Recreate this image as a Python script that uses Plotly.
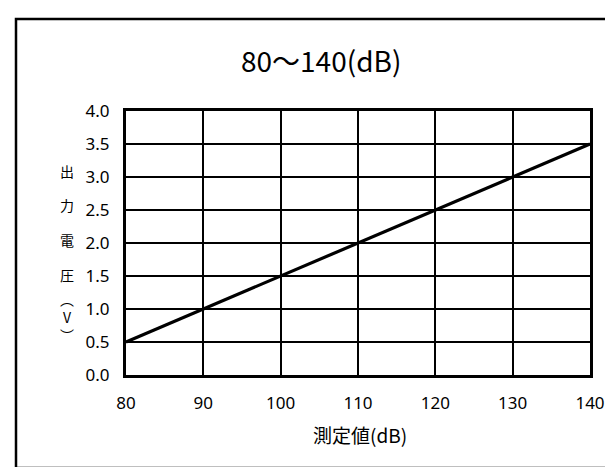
import plotly.graph_objects as go

# Data
measured_db = [80, 90, 100, 110, 120, 130, 140]
output_v = [0.5, 1.0, 1.5, 2.0, 2.5, 3.0, 3.5]
x_ticks = [80, 90, 100, 110, 120, 130, 140]
y_ticks = [0.0, 0.5, 1.0, 1.5, 2.0, 2.5, 3.0, 3.5, 4.0]
title_text = "80～140(dB)"
x_title = "測定値(dB)"
y_title_kanji = ["出", "力", "電", "圧"]
y_title_unit = "︵<br>V<br>︶"

W, H = 613, 467
L, R, T, B = 118, 582, 103, 367  # plot area pixel edges
pw, ph = R - L, B - T


def px(xp):
    return (xp - L) / pw


def py(yp):
    return (B - yp) / ph


CJK = "Noto Sans CJK JP"
LAT = "Noto Sans, Noto Sans CJK JP"

fig = go.Figure()
fig.add_trace(go.Scatter(x=measured_db, y=output_v, mode="lines",
                         line=dict(color="black", width=3.2),
                         showlegend=False, hoverinfo="skip"))

fig.update_layout(
    width=W, height=H,
    margin=dict(l=L, r=W - R, t=T, b=H - B),
    paper_bgcolor="white", plot_bgcolor="white",
    xaxis=dict(range=[80, 140], tickvals=x_ticks,
               ticktext=[str(v) for v in x_ticks],
               showgrid=True, gridcolor="black", gridwidth=2.3,
               showline=True, linecolor="black", linewidth=3, mirror=True,
               zeroline=False, ticks="", ticklabelstandoff=11,
               tickfont=dict(family=LAT, size=17, color="black")),
    yaxis=dict(range=[0, 4], tickvals=y_ticks,
               ticktext=[f"{v:.1f}" for v in y_ticks],
               showgrid=True, gridcolor="black", gridwidth=2.3,
               showline=True, linecolor="black", linewidth=3, mirror=True,
               zeroline=False, ticks="", ticklabelstandoff=10,
               tickfont=dict(family=LAT, size=17, color="black")),
)

annotations = [
    dict(text=title_text, xref="paper", yref="paper", x=px(313), y=py(52),
         xanchor="center", yanchor="middle", showarrow=False,
         font=dict(family=CJK, size=28, color="black")),
    dict(text=x_title, xref="paper", yref="paper", x=px(352), y=py(426),
         xanchor="center", yanchor="middle", showarrow=False,
         font=dict(family=CJK, size=19, color="black")),
]
# vertical axis title: stacked characters, placed along the value axis
kanji_levels = [3.09, 2.57, 2.04, 1.52]
for ch, lv in zip(y_title_kanji, kanji_levels):
    annotations.append(dict(text=ch, xref="paper", yref="y", x=px(59), y=lv,
                            xanchor="center", yanchor="middle", showarrow=False,
                            font=dict(family=CJK, size=14, color="black")))
annotations.append(dict(text=y_title_unit, xref="paper", yref="y", x=px(59), y=0.88,
                        xanchor="center", yanchor="middle", showarrow=False,
                        font=dict(family=CJK, size=14, color="black")))
fig.update_layout(annotations=annotations)

fig.add_shape(type="rect", xref="paper", yref="paper",
              x0=px(8), x1=px(608), y0=py(460), y1=py(11),
              line=dict(color="black", width=2.5), fillcolor="rgba(0,0,0,0)",
              layer="above")

fig.write_html("out.html")
